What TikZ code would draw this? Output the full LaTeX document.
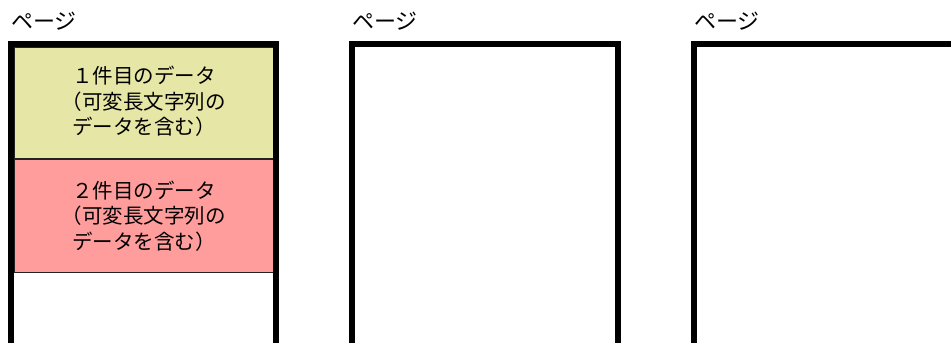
\documentclass[tikz,border=0pt]{standalone}
\usepackage{fontspec}
\setmainfont{Noto Sans CJK JP}
\usetikzlibrary{positioning}
\definecolor{rowyellow}{HTML}{E6E6A6}
\definecolor{rowpink}{HTML}{FF9C9C}
\definecolor{cellline}{HTML}{222222}

\begin{document}
\begin{tikzpicture}[x=1pt, y=-1pt,
  pageline/.style={draw=black, line width=6pt},
  datacell/.style={draw=cellline, line width=1pt, minimum width=259pt, inner sep=0pt},
  celltext/.style={anchor=west, inner sep=0pt, align=left,
    font=\fontsize{20.5}{25.5}\selectfont},
  pagelabel/.style={anchor=west, inner sep=0pt, font=\fontsize{22}{24}\selectfont}]
  \useasboundingbox (0,0) rectangle (951,343);
  \clip (0,0) rectangle (951,343);
  % first page with two rows
  \node[datacell, fill=rowyellow, minimum height=110.5pt, anchor=north west] (row1) at (14,47) {};
  \node[datacell, fill=rowpink, minimum height=113.5pt, below=0pt of row1] (row2) {};
  \node[celltext, right=58pt of row1.west, yshift=1.5pt] (text1)
    {１件目のデータ\\\hspace*{-0.5em}（可変長文字列の\\データを含む）};
  \node[celltext, right=58pt of row2.west] (text2)
    {２件目のデータ\\\hspace*{-0.5em}（可変長文字列の\\データを含む）};
  \draw[pageline] (11,343) -- (11,44) -- (276,44) -- (276,343);
  \node[pagelabel] (label1) at (11,21) {ページ};
  % second and third pages
  \draw[pageline] (352,343) -- (352,44) -- (618,44) -- (618,343);
  \node[pagelabel] (label2) at (352,21) {ページ};
  \draw[pageline] (694,343) -- (694,44) -- (960,44);
  \node[pagelabel] (label3) at (694,21) {ページ};
\end{tikzpicture}
\end{document}
